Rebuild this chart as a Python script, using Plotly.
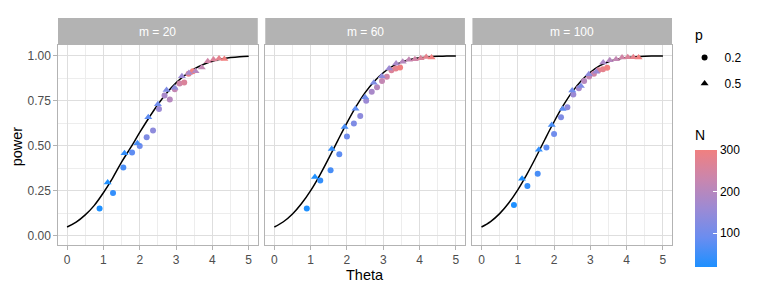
import plotly.graph_objects as go

# ---------------- data ----------------
N = [20, 40, 60, 80, 100, 120, 140, 160, 180, 200, 220, 240, 260, 280, 300]
theta_p02 = [0.894, 1.265, 1.549, 1.789, 2.0, 2.191, 2.366, 2.53, 2.683, 2.828, 2.966, 3.098, 3.225, 3.347, 3.464]
theta_p05 = [1.118, 1.581, 1.936, 2.236, 2.5, 2.739, 2.958, 3.162, 3.354, 3.536, 3.708, 3.873, 4.031, 4.183, 4.33]

power_m20_p02 = [0.153, 0.238, 0.38, 0.463, 0.50, 0.548, 0.585, 0.705, 0.78, 0.758, 0.814, 0.847, 0.852, 0.90, 0.915]
power_m20_p05 = [0.297, 0.459, 0.515, 0.659, 0.731, 0.81, 0.823, 0.887, 0.905, 0.915, 0.935, 0.97, 0.98, 0.985, 0.982]
power_m60_p02 = [0.153, 0.308, 0.365, 0.454, 0.552, 0.625, 0.666, 0.751, 0.80, 0.825, 0.86, 0.884, 0.92, 0.93, 0.935]
power_m60_p05 = [0.327, 0.483, 0.605, 0.706, 0.77, 0.85, 0.886, 0.93, 0.958, 0.967, 0.978, 0.981, 0.987, 0.993, 0.99]
power_m100_p02 = [0.172, 0.277, 0.345, 0.491, 0.566, 0.659, 0.714, 0.785, 0.82, 0.86, 0.885, 0.90, 0.92, 0.926, 0.934]
power_m100_p05 = [0.317, 0.478, 0.616, 0.705, 0.808, 0.832, 0.897, 0.911, 0.963, 0.976, 0.981, 0.99, 0.992, 0.992, 0.99]

curve_theta = [0, 0.25, 0.5, 0.75, 1.0, 1.25, 1.5, 1.75, 2.0, 2.25, 2.5, 2.75, 3.0, 3.25, 3.5, 3.75, 4.0, 4.25, 4.5, 4.75, 5.0]
curve_m20 = [0.05, 0.077, 0.117, 0.17, 0.24, 0.32, 0.41, 0.49, 0.575, 0.655, 0.73, 0.795, 0.85, 0.893, 0.927, 0.952, 0.97, 0.982, 0.99, 0.995, 0.997]
curve_m60 = [0.05, 0.079, 0.122, 0.18, 0.252, 0.337, 0.432, 0.531, 0.628, 0.718, 0.796, 0.858, 0.906, 0.941, 0.965, 0.980, 0.989, 0.994, 0.997, 0.999, 0.9995]
curve_m100 = [0.05, 0.08, 0.124, 0.183, 0.256, 0.342, 0.437, 0.537, 0.634, 0.723, 0.80, 0.862, 0.909, 0.944, 0.967, 0.981, 0.990, 0.995, 0.998, 0.999, 0.9996]

panels = ["m = 20", "m = 60", "m = 100"]
panel_p02 = [power_m20_p02, power_m60_p02, power_m100_p02]
panel_p05 = [power_m20_p05, power_m60_p05, power_m100_p05]
panel_curve = [curve_m20, curve_m60, curve_m100]

x_ticks = [0, 1, 2, 3, 4, 5]
y_ticks = [0.0, 0.25, 0.5, 0.75, 1.0]
y_tick_labels = ["0.00", "0.25", "0.50", "0.75", "1.00"]
cbar_ticks = [100, 200, 300]

# ---------------- styling ----------------
FONT = "Liberation Sans, Arial, sans-serif"
colorscale = [[0.0, "#1E90FF"], [0.25, "#6A8DF0"], [0.5, "#9C8AD4"], [0.75, "#C986AE"], [1.0, "#F08080"]]
GRID = "#DEDEDE"
MINOR = "#EDEDED"
BORDER = "#B3B3B3"

W, H = 763, 305
L, R, T, B = 57.7, 672.4, 18.0, 245.0
pw = R - L
ph = B - T
px_dom = [(57.7, 257.7), (265.2, 465.1), (472.6, 672.4)]
x_domains = [[(a - L) / pw, (b - L) / pw] for a, b in px_dom]
panel_top = (B - 45.0) / ph


def px_x(v):
    return (v - L) / pw


def px_y(v):
    return (B - v) / ph


fig = go.Figure()

for i in range(3):
    xa = "x" if i == 0 else f"x{i+1}"
    ya = "y" if i == 0 else f"y{i+1}"
    fig.add_trace(go.Scatter(
        x=curve_theta, y=panel_curve[i], mode="lines", line=dict(color="black", width=1.5, shape="spline"),
        xaxis=xa, yaxis=ya, showlegend=False, hoverinfo="skip"))
    fig.add_trace(go.Scatter(
        x=theta_p02, y=panel_p02[i], mode="markers", xaxis=xa, yaxis=ya, showlegend=False,
        marker=dict(symbol="circle", size=6, color=N, colorscale=colorscale, cmin=20, cmax=300,
                    showscale=(i == 0),
                    colorbar=dict(
                        tickvals=cbar_ticks, ticks="inside", tickcolor="white", ticklen=4,
                        tickfont=dict(size=12, color="black", family=FONT),
                        thickness=22, lenmode="pixels", len=117,
                        x=px_x(695), xanchor="left", xpad=0,
                        y=px_y(266.7), yanchor="bottom", ypad=0,
                        outlinewidth=0))))
    fig.add_trace(go.Scatter(
        x=theta_p05, y=panel_p05[i], mode="markers", xaxis=xa, yaxis=ya, showlegend=False,
        marker=dict(symbol="triangle-up", size=7, color=N, colorscale=colorscale, cmin=20, cmax=300,
                    showscale=False)))

# legend entries for p
fig.add_trace(go.Scatter(x=[None], y=[None], mode="markers", name="0.2", legendgroup="a",
                         marker=dict(symbol="circle", size=6, color="black")))
fig.add_trace(go.Scatter(x=[None], y=[None], mode="markers", name="0.5", legendgroup="b",
                         marker=dict(symbol="triangle-up", size=7, color="black")))

layout = dict(
    width=W, height=H,
    margin=dict(l=L, r=W - R, t=T, b=H - B, pad=0, autoexpand=False),
    paper_bgcolor="white", plot_bgcolor="white",
    font=dict(family=FONT, color="black"),
    legend=dict(x=px_x(685), xanchor="left", y=px_y(43), yanchor="top",
                font=dict(size=12, color="black"), tracegroupgap=7,
                bgcolor="rgba(0,0,0,0)", itemwidth=30),
    shapes=[], annotations=[
        dict(text="p", xref="paper", yref="paper", x=px_x(693), y=px_y(35), xanchor="left", yanchor="middle",
             showarrow=False, font=dict(size=14, color="black")),
        dict(text="N", xref="paper", yref="paper", x=px_x(693), y=px_y(135), xanchor="left", yanchor="middle",
             showarrow=False, font=dict(size=14, color="black")),
        dict(text="Theta", xref="paper", yref="paper", x=px_x(365), y=px_y(275), xanchor="center",
             yanchor="middle", showarrow=False, font=dict(size=14.5, color="black")),
        dict(text="power", xref="paper", yref="paper", x=px_x(17), y=px_y(146), xanchor="center",
             yanchor="middle", textangle=-90, showarrow=False, font=dict(size=14.5, color="black")),
    ],
)

for i in range(3):
    xk = "xaxis" if i == 0 else f"xaxis{i+1}"
    yk = "yaxis" if i == 0 else f"yaxis{i+1}"
    layout[xk] = dict(
        domain=x_domains[i], range=[-0.25, 5.25], anchor="y" if i == 0 else f"y{i+1}",
        tickvals=x_ticks, ticks="outside", ticklen=3.7, tickcolor=BORDER, tickwidth=1,
        tickfont=dict(size=12, color="#4D4D4D"), automargin=False,
        showgrid=True, gridcolor=GRID, gridwidth=1, zeroline=False,
        minor=dict(dtick=0.5, tick0=0.5, showgrid=True, gridcolor=MINOR, gridwidth=0.6, ticks=""),
        showline=True, linecolor=BORDER, linewidth=1, mirror=True,
    )
    layout[yk] = dict(
        domain=[0, panel_top], range=[-0.05, 1.06], anchor="x" if i == 0 else f"x{i+1}",
        tickvals=y_ticks, ticktext=y_tick_labels, automargin=False,
        ticks="outside" if i == 0 else "", ticklen=3.7, tickcolor=BORDER, tickwidth=1,
        showticklabels=(i == 0), tickfont=dict(size=12, color="#4D4D4D"),
        showgrid=True, gridcolor=GRID, gridwidth=1, zeroline=False,
        minor=dict(dtick=0.25, tick0=0.125, showgrid=True, gridcolor=MINOR, gridwidth=0.6, ticks=""),
        showline=True, linecolor=BORDER, linewidth=1, mirror=True,
    )
    xr = "x domain" if i == 0 else f"x{i+1} domain"
    layout["shapes"].append(dict(type="rect", xref=xr, yref="paper", x0=0, x1=1, y0=panel_top, y1=1,
                                 fillcolor=BORDER, line=dict(width=0), layer="below"))
    layout["annotations"].append(dict(text=panels[i], xref=xr, yref="paper", x=0.5, y=(panel_top + 1) / 2,
                                      showarrow=False, font=dict(size=12, color="white"),
                                      xanchor="center", yanchor="middle"))

fig.update_layout(**layout)
fig.write_html("out.html", config={"displayModeBar": False},
               post_script="document.body.style.margin='0';document.body.style.overflow='hidden';")
